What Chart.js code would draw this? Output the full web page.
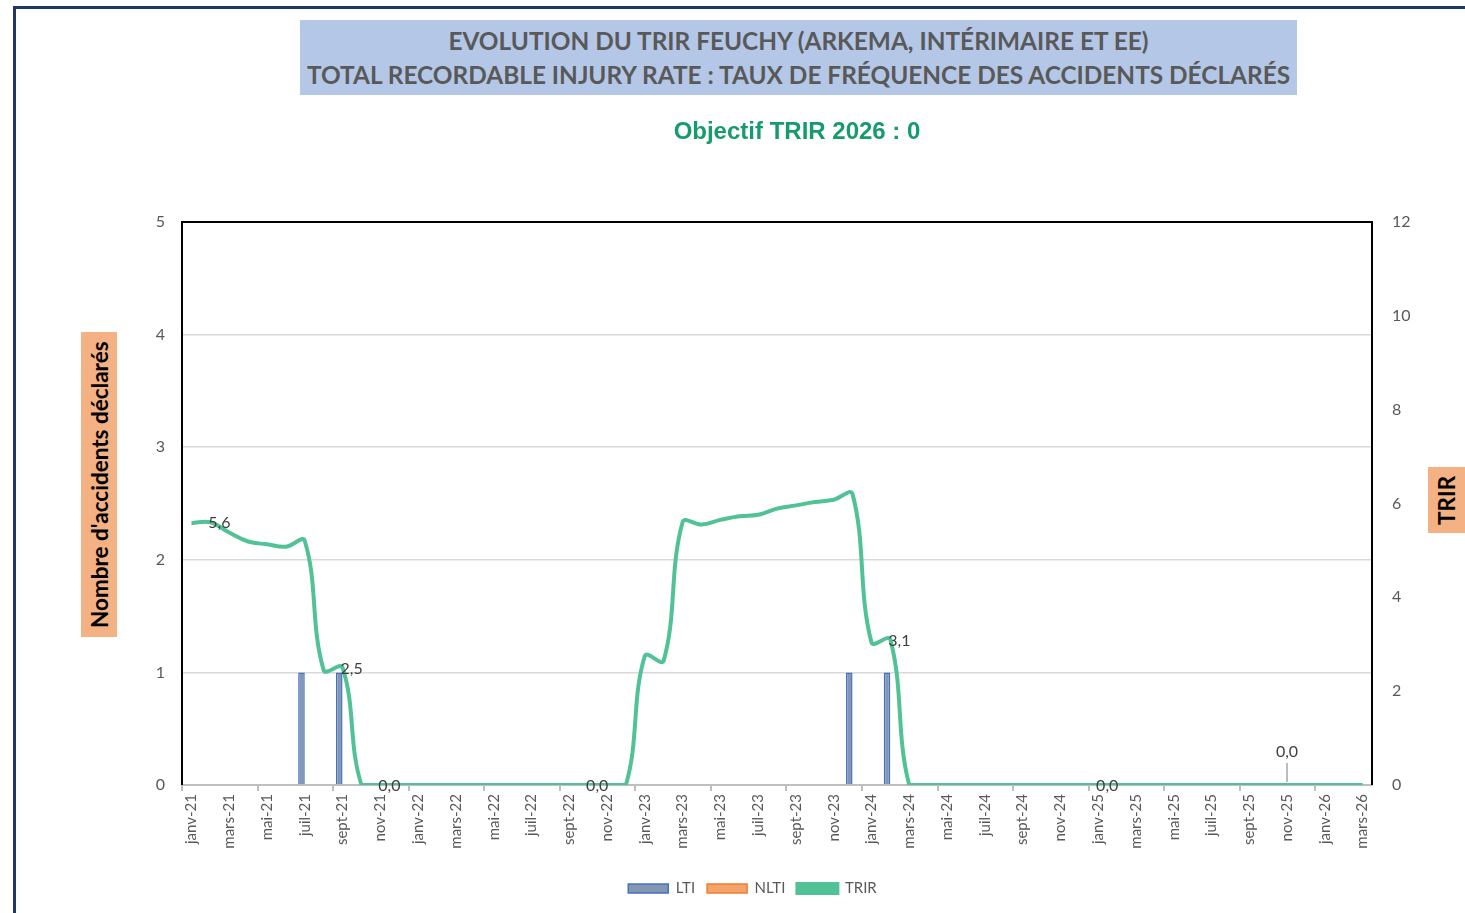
<!DOCTYPE html>
<html>
<head>
<meta charset="utf-8">
<script src="https://cdn.jsdelivr.net/npm/chart.js"></script>
<style>
  body { margin: 0; background: #fff; }
  #wrap { position: relative; width: 1465px; height: 913px; overflow: hidden; }
  #frame { position: absolute; left: 13px; top: 6px; right: 0; bottom: 0;
           border-top: 3px solid #203864; border-left: 3px solid #203864; }
  #title { position: absolute; left: 300px; top: 20px; width: 997px; height: 75px;
           background: #B4C7E7; color: #595959; font-family: Lato, sans-serif; font-weight: bold;
           font-size: 24.4px; line-height: 34px; text-align: center; padding-top: 4px; box-sizing: border-box;
           white-space: nowrap; }
  #subtitle { position: absolute; left: 500px; width: 594px; top: 117px; text-align: center;
              color: #169B6B; font-family: "Liberation Sans", Arial, sans-serif; font-weight: bold; font-size: 24px; }
  .axbox { position: absolute; background: #F4B183; color: #000; font-family: Lato, sans-serif;
           font-weight: bold; font-size: 22.5px; writing-mode: vertical-rl; transform: rotate(180deg);
           display: flex; align-items: center; justify-content: center; }
  #ytitle { left: 81px; top: 332px; width: 36px; height: 305px; }
  #y1title { left: 1428px; top: 467px; width: 37px; height: 66px; }
  canvas { position: absolute; left: 0; top: 0; }
</style>
</head>
<body>
<div id="wrap">
  <canvas id="chart" width="1465" height="913"></canvas>
  <div id="frame"></div>
  <div id="title">EVOLUTION DU TRIR FEUCHY (ARKEMA, INTÉRIMAIRE ET EE)<br>TOTAL RECORDABLE INJURY RATE : TAUX DE FRÉQUENCE DES ACCIDENTS DÉCLARÉS</div>
  <div id="subtitle">Objectif TRIR 2026 : 0</div>
  <div class="axbox" id="ytitle">Nombre d'accidents déclarés</div>
  <div class="axbox" id="y1title">TRIR</div>
</div>
<script>
// mois de janv-21 à mars-26
const months = [
  'janv-21','févr-21','mars-21','avr-21','mai-21','juin-21','juil-21','août-21','sept-21','oct-21','nov-21','déc-21',
  'janv-22','févr-22','mars-22','avr-22','mai-22','juin-22','juil-22','août-22','sept-22','oct-22','nov-22','déc-22',
  'janv-23','févr-23','mars-23','avr-23','mai-23','juin-23','juil-23','août-23','sept-23','oct-23','nov-23','déc-23',
  'janv-24','févr-24','mars-24','avr-24','mai-24','juin-24','juil-24','août-24','sept-24','oct-24','nov-24','déc-24',
  'janv-25','févr-25','mars-25','avr-25','mai-25','juin-25','juil-25','août-25','sept-25','oct-25','nov-25','déc-25',
  'janv-26','févr-26','mars-26'
];

const lti = [
  0,0,0,0,0,0,1,0,1,0,0,0,
  0,0,0,0,0,0,0,0,0,0,0,0,
  0,0,0,0,0,0,0,0,0,0,0,1,
  0,1,0,0,0,0,0,0,0,0,0,0,
  0,0,0,0,0,0,0,0,0,0,0,0,
  0,0,0
];

const nlti = [
  0,0,0,0,0,0,0,0,0,0,0,0,
  0,0,0,0,0,0,0,0,0,0,0,0,
  0,0,0,0,0,0,0,0,0,0,0,0,
  0,0,0,0,0,0,0,0,0,0,0,0,
  0,0,0,0,0,0,0,0,0,0,0,0,
  0,0,0
];

const trir = [
  5.58,5.6,5.38,5.19,5.13,5.08,5.2,2.45,2.5,0,0,0,
  0,0,0,0,0,0,0,0,0,0,0,0,
  2.75,2.65,5.6,5.55,5.65,5.73,5.76,5.89,5.96,6.03,6.08,6.2,
  3.04,3.1,0,0,0,0,0,0,0,0,0,0,
  0,0,0,0,0,0,0,0,0,0,0,0,
  0,0,0
];

// étiquettes de données affichées sur la courbe TRIR
const labelRight = [1, 8, 10, 21, 37, 48];
const labelAbove = [58];

const fmt = v => v.toFixed(1).replace('.', ',');

const plotFrame = {
  id: 'plotFrame',
  afterDatasetsDraw(chart) {
    const { ctx, chartArea: a } = chart;
    ctx.save();
    ctx.strokeStyle = '#000';
    ctx.lineWidth = 2;
    ctx.beginPath();
    ctx.moveTo(a.left, a.bottom);
    ctx.lineTo(a.left, a.top);
    ctx.lineTo(a.right, a.top);
    ctx.lineTo(a.right, a.bottom);
    ctx.stroke();
    ctx.restore();
  }
};

const trirLabels = {
  id: 'trirLabels',
  afterDatasetsDraw(chart) {
    const meta = chart.getDatasetMeta(2);
    const ctx = chart.ctx;
    ctx.save();
    ctx.font = '16px Lato, sans-serif';
    ctx.fillStyle = '#404040';
    ctx.textBaseline = 'middle';
    ctx.textAlign = 'left';
    labelRight.forEach(i => {
      const p = meta.data[i];
      ctx.fillText(fmt(trir[i]), p.x - 2, p.y + 1);
    });
    ctx.textAlign = 'center';
    labelAbove.forEach(i => {
      const p = meta.data[i];
      ctx.strokeStyle = '#A6A6A6';
      ctx.lineWidth = 1.5;
      ctx.beginPath();
      ctx.moveTo(p.x, p.y - 3);
      ctx.lineTo(p.x, p.y - 22);
      ctx.stroke();
      ctx.fillText(fmt(trir[i]), p.x, p.y - 33);
    });
    ctx.restore();
  }
};

new Chart(document.getElementById('chart'), {
  type: 'bar',
  data: {
    labels: months,
    datasets: [
      {
        label: 'LTI',
        data: lti,
        backgroundColor: '#8497B0',
        borderColor: '#4472C4',
        borderWidth: 1.5,
        categoryPercentage: 0.7,
        barPercentage: 1.0,
        yAxisID: 'y',
        order: 2
      },
      {
        label: 'NLTI',
        data: nlti,
        backgroundColor: '#F4A46A',
        borderColor: '#ED7D31',
        borderWidth: 1.5,
        categoryPercentage: 0.7,
        barPercentage: 1.0,
        yAxisID: 'y',
        order: 3
      },
      {
        type: 'line',
        label: 'TRIR',
        data: trir,
        borderColor: '#50C296',
        backgroundColor: '#50C296',
        borderWidth: 4,
        pointRadius: 0,
        tension: 0.4,
        yAxisID: 'y1',
        order: 1
      }
    ]
  },
  options: {
    responsive: false,
    animation: false,
    layout: { padding: { top: 222, left: 40, right: 0, bottom: 7 } },
    plugins: {
      title: { display: false },
      tooltip: { enabled: false },
      legend: {
        position: 'bottom',
        labels: {
          boxWidth: 40,
          boxHeight: 9,
          padding: 12,
          color: '#595959',
          font: { family: 'Lato, sans-serif', size: 15 },
          sort: (a, b) => a.datasetIndex - b.datasetIndex
        }
      }
    },
    scales: {
      x: {
        afterFit: s => { s.height = 84; s.paddingLeft = 0; s.paddingRight = 0; },
        grid: {
          drawOnChartArea: false,
          drawTicks: true,
          tickLength: 6,
          lineWidth: 2,
          color: c => (c.index % 4 === 0 ? '#BFBFBF' : 'rgba(0,0,0,0)')
        },
        border: { color: '#BFBFBF', width: 2 },
        ticks: {
          autoSkip: false,
          maxRotation: 90,
          minRotation: 90,
          padding: 3,
          color: '#595959',
          font: { family: 'Lato, sans-serif', size: 15 },
          callback: function (v, i) { return i % 2 === 0 ? months[i] : ''; }
        }
      },
      y: {
        position: 'left',
        min: 0,
        max: 5,
        afterFit: s => { s.width = 142; s.paddingTop = 0; s.paddingBottom = 0; },
        ticks: {
          stepSize: 1,
          padding: 17,
          color: '#595959',
          font: { family: 'Lato, sans-serif', size: 16 }
        },
        grid: { color: '#D9D9D9', lineWidth: 1.5, drawTicks: false },
        border: { display: false }
      },
      y1: {
        position: 'right',
        min: 0,
        max: 12,
        afterFit: s => { s.width = 93; s.paddingTop = 0; s.paddingBottom = 0; },
        ticks: {
          stepSize: 2,
          padding: 20,
          color: '#595959',
          font: { family: 'Lato, sans-serif', size: 16 }
        },
        grid: { display: false, drawTicks: false },
        border: { display: false }
      }
    }
  },
  plugins: [plotFrame, trirLabels]
});
</script>
</body>
</html>
